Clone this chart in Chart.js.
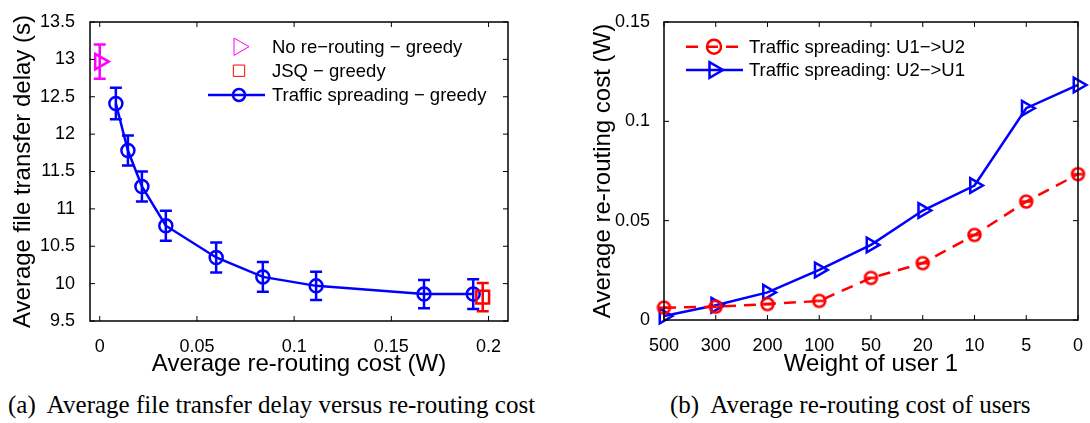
<!DOCTYPE html>
<html>
<head>
<meta charset="utf-8">
<script src="https://cdn.jsdelivr.net/npm/chart.js@4.4.0/dist/chart.umd.min.js"></script>
<style>
body { margin: 0; background: #fff; width: 1090px; height: 423px; position: relative; overflow: hidden; }
.plot { position: absolute; top: 0; width: 545px; height: 380px; }
.cap { position: absolute; top: 392px; line-height: 25px; font-family: "Liberation Serif", "Times New Roman", serif; font-size: 25px; white-space: pre; color: #000; }
</style>
</head>
<body>
<div class="plot" style="left:0"><canvas id="delay" width="545" height="380"></canvas></div>
<div class="plot" style="left:545px"><canvas id="cost" width="545" height="380"></canvas></div>
<div class="cap" style="left:8px">(a)  Average file transfer delay versus re-routing cost</div>
<div class="cap" style="left:670px">(b)  Average re-routing cost of users</div>
<script>
// (a) delay vs re-routing cost
const spreadCost = [0.0083, 0.0145, 0.0217, 0.034, 0.0599, 0.0839, 0.1113, 0.1668, 0.1921];
const spreadDelay = [12.41, 11.78, 11.30, 10.775, 10.35, 10.09, 9.97, 9.86, 9.86];
const spreadErr = [0.21, 0.2, 0.2, 0.2, 0.2, 0.2, 0.19, 0.19, 0.2];
const noRerouteCost = [0];
const noRerouteDelay = [12.97];
const noRerouteErr = [0.23];
const jsqCost = [0.197];
const jsqDelay = [9.82];
const jsqErr = [0.19];
const delayTicks = [9.5, 10, 10.5, 11, 11.5, 12, 12.5, 13, 13.5];
const costTicksA = [0, 0.05, 0.1, 0.15, 0.2];

// (b) re-routing cost per user
const weights = ['500', '300', '200', '100', '50', '20', '10', '5', '0'];
const costU1toU2 = [0.0062, 0.0067, 0.008, 0.0096, 0.0212, 0.0286, 0.0428, 0.0596, 0.0734];
const costU2toU1 = [0.002, 0.0074, 0.0139, 0.0252, 0.0378, 0.0551, 0.0677, 0.1066, 0.1183];
const costTicksB = [0, 0.05, 0.1, 0.15];

const BLUE = '#0000ff', RED = '#ff0000', MAGENTA = '#ff00ff';

Chart.defaults.font.family = "'Liberation Sans', Arial, sans-serif";
Chart.defaults.color = '#000';

function pts(xs, ys) {
    return xs.map((v, i) => ({x: v, y: ys[i]}));
}

function ringBar(r, w, color) {
    // circle with a bar through it, like the matlab marker
    const c = document.createElement('canvas');
    const s = Math.ceil(2 * r + w + 2);
    c.width = s; c.height = s;
    const g = c.getContext('2d');
    g.strokeStyle = color;
    g.lineWidth = w;
    g.beginPath(); g.arc(s / 2, s / 2, r, 0, Math.PI * 2); g.stroke();
    g.beginPath(); g.moveTo(s / 2 - r, s / 2); g.lineTo(s / 2 + r, s / 2); g.stroke();
    return c;
}

function fixTicks(list) {
    return function(scale) {
        scale.ticks = list.map(v => ({value: v}));
    }
}

const matlabAxes = {
    id: 'matlabAxes',
    afterDatasetDraw(chart, args) {
        const ds = chart.data.datasets[args.index];
        if (!ds.errors) return;
        const xs = chart.scales.x, ys = chart.scales.y, ctx = chart.ctx;
        ctx.save();
        ctx.strokeStyle = ds.borderColor;
        ctx.lineWidth = 2.5;
        ds.data.forEach((p, i) => {
            const px = xs.getPixelForValue(p.x);
            const top = ys.getPixelForValue(p.y + ds.errors[i]);
            const bot = ys.getPixelForValue(p.y - ds.errors[i]);
            ctx.beginPath();
            ctx.moveTo(px, top); ctx.lineTo(px, bot);
            ctx.moveTo(px - 6, top); ctx.lineTo(px + 6, top);
            ctx.moveTo(px - 6, bot); ctx.lineTo(px + 6, bot);
            ctx.stroke();
        });
        ctx.restore();
    },
    afterDraw(chart, args, opts) {
        const ctx = chart.ctx, a = chart.chartArea;
        const xs = chart.scales.x, ys = chart.scales.y;
        ctx.save();
        ctx.strokeStyle = '#000';
        ctx.lineWidth = 1.5;
        ctx.strokeRect(a.left, a.top, a.right - a.left, a.bottom - a.top);
        ctx.lineWidth = 1;
        ctx.beginPath();
        xs.ticks.forEach((t, i) => {
            const px = xs.getPixelForTick(i);
            ctx.moveTo(px, a.bottom); ctx.lineTo(px, a.bottom - 5);
            ctx.moveTo(px, a.top); ctx.lineTo(px, a.top + 5);
        });
        ys.ticks.forEach((t, i) => {
            const py = ys.getPixelForTick(i);
            ctx.moveTo(a.left, py); ctx.lineTo(a.left + 5, py);
            ctx.moveTo(a.right, py); ctx.lineTo(a.right - 5, py);
        });
        ctx.stroke();

        // legend
        const lg = opts.legend;
        ctx.font = "18.5px 'Liberation Sans', Arial, sans-serif";
        ctx.textBaseline = 'middle';
        lg.items.forEach((it, k) => {
            const ds = chart.data.datasets[it.ds];
            const y = lg.rows[k];
            ctx.strokeStyle = ds.borderColor;
            if (it.line) {
                ctx.lineWidth = 2.5;
                ctx.setLineDash(ds.borderDash || []);
                ctx.beginPath(); ctx.moveTo(lg.lineFrom, y); ctx.lineTo(lg.lineTo, y); ctx.stroke();
                ctx.setLineDash([]);
            }
            ctx.fillStyle = 'rgba(0,0,0,0)';
            Chart.helpers.drawPoint(ctx, {pointStyle: it.style, rotation: it.rot || 0, radius: it.r, borderWidth: 1}, lg.markX, y);
            ctx.fillStyle = '#000';
            ctx.fillText(ds.label, lg.textX, y + 1);
        });
        ctx.restore();
    }
};

new Chart(document.getElementById('delay'), {
    type: 'scatter',
    data: {
        datasets: [{
            label: 'JSQ \u2212 greedy',
            data: pts(jsqCost, jsqDelay),
            errors: jsqErr,
            borderColor: RED,
            backgroundColor: 'rgba(0,0,0,0)',
            pointStyle: 'rect',
            pointRadius: 9,
            pointBorderWidth: 2.5,
            clip: false
        }, {
            label: 'No re\u2212routing \u2212 greedy',
            data: pts(noRerouteCost, noRerouteDelay),
            errors: noRerouteErr,
            borderColor: MAGENTA,
            backgroundColor: 'rgba(0,0,0,0)',
            pointStyle: 'triangle',
            rotation: 90,
            pointRadius: 9,
            pointBorderWidth: 2.5,
            clip: false
        }, {
            label: 'Traffic spreading \u2212 greedy',
            data: pts(spreadCost, spreadDelay),
            errors: spreadErr,
            showLine: true,
            borderColor: BLUE,
            borderWidth: 2.5,
            backgroundColor: 'rgba(0,0,0,0)',
            pointStyle: 'circle',
            pointRadius: 6.5,
            pointBorderWidth: 2.5,
            clip: false
        }]
    },
    options: {
        responsive: false,
        animation: false,
        events: [],
        layout: {padding: {left: 0, right: 37, top: 22, bottom: 0}},
        plugins: {
            legend: {display: false},
            tooltip: {enabled: false},
            matlabAxes: {
                legend: {
                    lineFrom: 208, lineTo: 265, markX: 239, textX: 272,
                    rows: [46.7, 70.7, 95],
                    items: [
                        {ds: 1, style: 'triangle', rot: 90, r: 10},
                        {ds: 0, style: 'rect', r: 8},
                        {ds: 2, style: 'circle', r: 6, line: true}
                    ]
                }
            }
        },
        scales: {
            x: {
                type: 'linear',
                min: -0.005,
                max: 0.21,
                afterBuildTicks: fixTicks(costTicksA),
                afterFit: s => { s.height = 59; },
                grid: {display: false},
                border: {display: false},
                ticks: {font: {size: 18}, padding: 7, autoSkip: false, maxRotation: 0, callback: v => String(v)},
                title: {display: true, text: 'Average re-routing cost (W)', font: {size: 24}, padding: {top: 0, bottom: 1}}
            },
            y: {
                min: 9.5,
                max: 13.5,
                afterBuildTicks: fixTicks(delayTicks),
                afterFit: s => { s.width = 90; },
                grid: {display: false},
                border: {display: false},
                ticks: {font: {size: 18}, padding: 7, autoSkip: false, callback: v => String(v)},
                title: {display: true, text: 'Average file transfer delay (s)', font: {size: 24}, padding: {top: 8.6, bottom: 0}}
            }
        }
    },
    plugins: [matlabAxes]
});

new Chart(document.getElementById('cost'), {
    type: 'line',
    data: {
        labels: weights,
        datasets: [{
            label: 'Traffic spreading: U1\u2212>U2',
            data: costU1toU2,
            borderColor: RED,
            borderWidth: 2.5,
            borderDash: [12, 8],
            backgroundColor: 'rgba(0,0,0,0)',
            pointStyle: ringBar(6, 2.5, RED),
            pointRadius: 6,
            clip: false
        }, {
            label: 'Traffic spreading: U2\u2212>U1',
            data: costU2toU1,
            borderColor: BLUE,
            borderWidth: 2.5,
            backgroundColor: 'rgba(0,0,0,0)',
            pointStyle: 'triangle',
            rotation: 90,
            pointRadius: 8.5,
            pointBorderWidth: 2.5,
            clip: false
        }]
    },
    options: {
        responsive: false,
        animation: false,
        events: [],
        layout: {padding: {left: 0, right: 7, top: 22, bottom: 0}},
        plugins: {
            legend: {display: false},
            tooltip: {enabled: false},
            matlabAxes: {
                legend: {
                    lineFrom: 141, lineTo: 198, markX: 169, textX: 204,
                    rows: [46.7, 70],
                    items: [
                        {ds: 0, style: 'circle', r: 7, line: true},
                        {ds: 1, style: 'triangle', rot: 90, r: 9, line: true}
                    ]
                }
            }
        },
        scales: {
            x: {
                offset: false,
                afterFit: s => { s.height = 60; },
                grid: {display: false},
                border: {display: false},
                ticks: {font: {size: 18}, padding: 7, autoSkip: false, maxRotation: 0},
                title: {display: true, text: 'Weight of user 1', font: {size: 24}, padding: {top: 0, bottom: 1}}
            },
            y: {
                min: 0,
                max: 0.15,
                afterBuildTicks: fixTicks(costTicksB),
                afterFit: s => { s.width = 119; },
                grid: {display: false},
                border: {display: false},
                ticks: {font: {size: 18}, padding: 6, autoSkip: false, callback: v => String(v)},
                title: {display: true, text: 'Average re-routing cost (W)', font: {size: 24}, padding: {top: 43.6, bottom: 0}}
            }
        }
    },
    plugins: [matlabAxes]
});
</script>
</body>
</html>
